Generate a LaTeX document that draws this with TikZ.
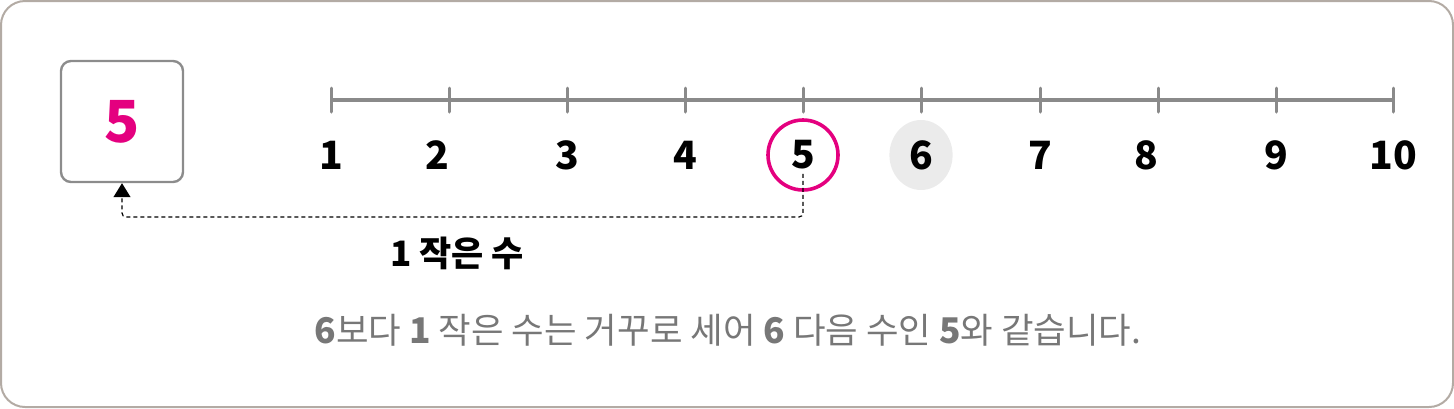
\documentclass[tikz,border=0pt]{standalone}
\usepackage{fontspec}
\setmainfont{Noto Sans CJK KR}
\usetikzlibrary{arrows.meta}
\definecolor{framegray}{HTML}{B3ABA4}
\definecolor{boxgray}{HTML}{8C8C8C}
\definecolor{linegray}{HTML}{8A8A8A}
\definecolor{markpink}{HTML}{E4007F}
\definecolor{softgray}{HTML}{EBEBEB}
\definecolor{textgray}{HTML}{777777}
\renewcommand{\b}[1]{\textbf{#1}}

\begin{document}
\begin{tikzpicture}[x=0.5pt,y=-0.5pt,
  numlabel/.style={font=\fontsize{19.5}{19.5}\selectfont\bfseries, inner sep=2pt},
  tick/.style={linegray, line width=1.5pt, line cap=round}]
  \useasboundingbox (0,0) rectangle (1454,408);
  \draw[framegray, line width=1pt, rounded corners=12pt] (1,1) rectangle (1453,407);

  % answer box
  \node[draw=boxgray, line width=1.2pt, rounded corners=5pt, minimum width=61pt,
        minimum height=60.5pt, text=markpink,
        font=\fontsize{29}{29}\selectfont\bfseries] (box) at (122,121.5) {5};

  % number line
  \draw[linegray, line width=2pt] (331,100) -- (1393,100);
  \foreach \x in {331,449,567,685,803,921,1040,1158,1276,1393}
    \draw[tick] (\x,88) -- (\x,112);

  \fill[softgray] (921,155) ellipse (15.8pt and 17.5pt);
  \draw[markpink, line width=1.8pt] (803,155) circle (17.5pt);

  \node[numlabel] (n1) at (331,155) {1};
  \node[numlabel] (n2) at (437,155) {2};
  \node[numlabel] (n3) at (567,155) {3};
  \node[numlabel] (n4) at (685,155) {4};
  \node[numlabel] (n5) at (803,155) {5};
  \node[numlabel] (n6) at (921,155) {6};
  \node[numlabel] (n7) at (1040,155) {7};
  \node[numlabel] (n8) at (1146,155) {8};
  \node[numlabel] (n9) at (1276,155) {9};
  \node[numlabel] (n10) at (1393,155) {10};

  % counting back
  \draw[dash pattern=on 2pt off 1.5pt, line width=0.6pt, rounded corners=2pt,
        -{Triangle[length=7pt,width=8.5pt]}]
    (n5.south) -- (803,217) -| (box.south);
  \node[font=\fontsize{17.5}{17.5}\selectfont] (step) at (457,253) {\b{1} \b{작은 수}};

  \node[text=textgray, font=\fontsize{17.7}{17.7}\selectfont] (note) at (728,330)
    {\b{6}보다 \b{1} 작은 수는 거꾸로 세어 \b{6} 다음 수인 \b{5}와 같습니다.};
\end{tikzpicture}
\end{document}
